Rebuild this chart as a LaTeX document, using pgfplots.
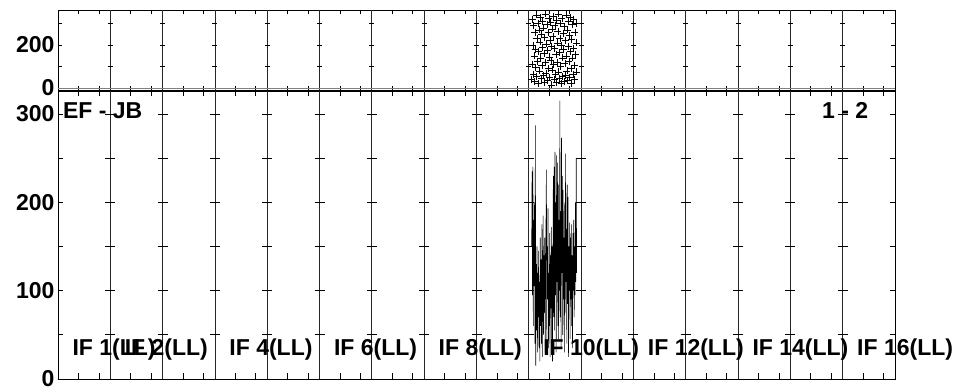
\documentclass[border=0pt]{standalone}
\usepackage{pgfplots}
\pgfplotsset{compat=1.18}
\usepackage{pgfplotstable}
\usepackage{fontspec}
\setmainfont{Liberation Sans}

\pgfplotstableread{
ch amp
7 150
8 235
9 95
10 240
11 60
12 180
13 105
14 200
15 40
16 287
17 15
18 130
19 55
20 150
21 30
22 120
23 70
24 145
25 35
26 110
27 20
28 160
29 60
30 135
31 40
32 175
33 25
34 120
35 185
36 50
37 140
38 75
39 160
40 30
41 110
42 175
43 237
44 45
45 150
46 90
47 193
48 35
49 120
50 60
51 165
52 25
53 140
54 80
55 172
56 40
57 150
58 20
59 130
60 230
61 70
62 240
63 55
64 257
65 95
66 200
67 30
68 253
69 110
70 245
71 60
72 220
73 45
74 180
75 100
76 315
77 70
78 190
79 35
80 273
81 120
82 230
83 50
84 214
85 90
86 160
87 30
88 200
89 75
90 255
91 110
92 170
93 40
94 220
95 85
96 206
97 25
98 150
99 100
100 177
101 45
102 160
103 90
104 175
105 60
106 140
107 35
108 165
109 100
110 180
111 70
112 150
113 95
114 200
115 110
116 250
117 120
}\amptable

\pgfplotstableread{
ch ph
7 40
8 320
9 110
10 200
11 65
12 290
13 150
14 30
15 260
16 180
17 95
18 340
19 55
20 230
21 125
22 300
23 20
24 170
25 270
26 80
27 215
28 330
29 140
30 45
31 250
32 105
33 310
34 190
35 60
36 280
37 160
38 25
39 235
40 345
41 120
42 70
43 205
44 295
45 35
46 175
47 260
48 90
49 325
50 145
51 50
52 220
53 305
54 130
55 15
56 195
57 275
58 85
59 240
60 335
61 110
62 40
63 185
64 290
65 65
66 155
67 315
68 25
69 210
70 120
71 265
72 75
73 345
74 165
75 45
76 230
77 300
78 100
79 20
80 200
81 325
82 140
83 55
84 255
85 180
86 30
87 285
88 115
89 220
90 60
91 340
92 150
93 80
94 270
95 35
96 195
97 310
98 125
99 50
100 245
101 170
102 330
103 90
104 20
105 225
106 140
107 295
108 65
109 185
110 320
111 105
112 40
113 260
114 155
115 300
116 75
117 210
}\phtable

\begin{document}
\begin{tikzpicture}
\useasboundingbox (0,0) rectangle (959pt,388pt);
\pgfplotsset{
 panel/.style={
  scale only axis, width=837pt, anchor=south west, xmin=0, xmax=2048,
  axis line style={line width=0.8pt},
  xtick={50,178,...,1970}, minor xtick={100,228,...,2020},
  xticklabels={},
  extra x ticks={128,256,...,1920}, extra x tick labels={},
  extra x tick style={grid=major, major tick length=0pt},
  major grid style={black!85, line width=0.8pt},
  tick style={black, line width=0.7pt},
  tick align=inside,
  ticklabel style={font=\fontsize{23}{24}\selectfont\bfseries},
  /pgf/number format/assume math mode=true,
  clip=false,
 }
}
% top panel
\begin{axis}[panel, at={(58pt,298pt)}, height=80pt,
  ymin=-9, ymax=363, ytick={0,200}, minor ytick={100,300},
  major tick length=4pt, minor tick length=4pt]
\draw[gray, line width=0.7pt] (axis cs:0,0) -- (axis cs:2048,0);
\pgfplotsforeachungrouped \xx in {128,256,...,1920}{%
 \pgfplotsforeachungrouped \yy in {100,200,300}{%
  \edef\tmp{\noexpand\draw[line width=0.7pt] ([xshift=-2.5pt]axis cs:\xx,\yy) -- ([xshift=2.5pt]axis cs:\xx,\yy);}\tmp}}
\addplot[only marks, mark=+, mark size=3.5pt, black, line width=0.55pt]
  table[x expr=\thisrow{ch}+1152, y=ph] {\phtable};
\end{axis}
% bottom panel
\begin{axis}[panel, at={(58pt,9pt)}, height=288pt,
  ymin=0, ymax=326, ytick={0,100,200,300}, minor ytick={50,150,250},
  major tick length=5.5pt, minor tick length=5.5pt]
\pgfplotsforeachungrouped \xx in {128,256,...,1920}{%
 \pgfplotsforeachungrouped \yy in {50,100,...,300}{%
  \edef\tmp{\noexpand\draw[line width=0.7pt] ([xshift=-5pt]axis cs:\xx,\yy) -- ([xshift=5pt]axis cs:\xx,\yy);}\tmp}}
\addplot[black, line width=0.55pt]
  table[x expr=\thisrow{ch}+1152, y=amp] {\amptable};
\begin{scope}[every node/.style={font=\fontsize{23}{24}\selectfont\bfseries, inner sep=0pt}]
\node[anchor=west] at (axis cs:12,304) {EF - JB};
\node at (axis cs:1926,304) {1 - 2};
\node[anchor=west] at (axis cs:35,33) {IF 1(LL)};
\node[anchor=west] at (axis cs:163,33) {IF 2(LL)};
\node[anchor=west] at (axis cs:419,33) {IF 4(LL)};
\node[anchor=west] at (axis cs:675,33) {IF 6(LL)};
\node[anchor=west] at (axis cs:931,33) {IF 8(LL)};
\node[anchor=west] at (axis cs:1187,33) {IF 10(LL)};
\node[anchor=west] at (axis cs:1443,33) {IF 12(LL)};
\node[anchor=west] at (axis cs:1699,33) {IF 14(LL)};
\node[anchor=west] at (axis cs:1955,33) {IF 16(LL)};
\end{scope}
\end{axis}
\end{tikzpicture}
\end{document}
